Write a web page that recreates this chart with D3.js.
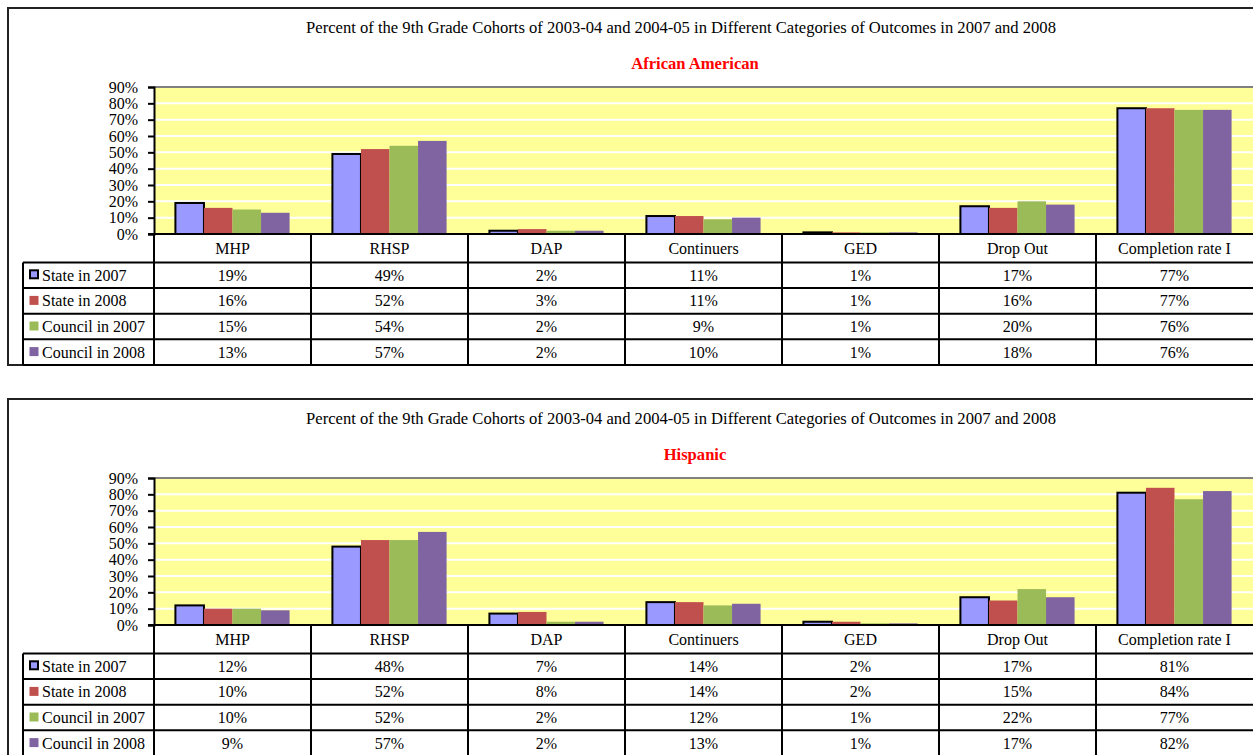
<!DOCTYPE html>
<html>
<head>
<meta charset="utf-8">
<script src="https://cdn.jsdelivr.net/npm/d3@7"></script>
<style>
  html, body { margin: 0; padding: 0; background: #fff; }
  svg { display: block; }
  text { font-family: "Liberation Serif", "Times New Roman", serif; fill: #000; }
</style>
</head>
<body>
<svg id="chart" width="1253" height="755"></svg>
<script>
// Outcome categories shown along the axis and as table columns
const categories = ["MHP", "RHSP", "DAP", "Continuers", "GED", "Drop Out", "Completion rate I"];
const seriesNames = ["State in 2007", "State in 2008", "Council in 2007", "Council in 2008"];
const seriesColors = ["#9999FF", "#C0504D", "#9BBB59", "#8064A2"];
const yTicks = [0, 0.1, 0.2, 0.3, 0.4, 0.5, 0.6, 0.7, 0.8, 0.9];

const chartTitle = "Percent of the 9th Grade Cohorts of 2003-04 and 2004-05 in Different Categories of Outcomes in 2007 and 2008";

// African American values (percent)
const aaState2007   = [19, 49, 2, 11, 1, 17, 77];
const aaState2008   = [16, 52, 3, 11, 1, 16, 77];
const aaCouncil2007 = [15, 54, 2, 9, 1, 20, 76];
const aaCouncil2008 = [13, 57, 2, 10, 1, 18, 76];

// Hispanic values (percent)
const hiState2007   = [12, 48, 7, 14, 2, 17, 81];
const hiState2008   = [10, 52, 8, 14, 2, 15, 84];
const hiCouncil2007 = [10, 52, 2, 12, 1, 22, 77];
const hiCouncil2008 = [9, 57, 2, 13, 1, 17, 82];

const panels = [
  { subtitle: "African American", series: [aaState2007, aaState2008, aaCouncil2007, aaCouncil2008] },
  { subtitle: "Hispanic",         series: [hiState2007, hiState2008, hiCouncil2007, hiCouncil2008] }
];

const svg = d3.select("#chart");
const fmtPct = d3.format(".0%");

// Layout (per panel, relative to panel origin)
const panelStep = 391;
const frameX = 8, frameY = 8;
const plotLeft = 154, plotRight = 1253;
const plotTop = 87, plotBottom = 234;
const headerH = 28.5;
const rowH = 25.6;
const legendLeft = 23;

function drawPanel(panel, idx) {
  const g = svg.append("g").attr("transform", `translate(0,${idx * panelStep})`);

  const x = d3.scaleBand().domain(categories).range([plotLeft, plotRight]).padding(0);
  const step = x.step();
  const barW = step / 5.5;
  const gap = step - 4 * barW;
  const xs = d3.scaleBand().domain(seriesNames).range([gap / 2, step - gap / 2]).padding(0);
  const y = d3.scaleLinear().domain([0, 0.9]).range([plotBottom, plotTop]);

  // outer frame
  g.append("rect")
    .attr("x", frameX).attr("y", frameY)
    .attr("width", 1400).attr("height", 357)
    .attr("fill", "#fff").attr("stroke", "#222").attr("stroke-width", 2);

  // titles
  g.append("text").attr("x", 681).attr("y", 33)
    .attr("text-anchor", "middle").attr("font-size", 16.6).text(chartTitle);
  g.append("text").attr("x", 695).attr("y", 68.5)
    .attr("text-anchor", "middle").attr("font-size", 16.6).attr("font-weight", "bold")
    .style("fill", "#FF0000").text(panel.subtitle);

  // plot background
  g.append("rect")
    .attr("x", plotLeft).attr("y", y(0.9))
    .attr("width", plotRight - plotLeft + 2).attr("height", y(0) - y(0.9))
    .attr("fill", "#FFFF99");

  // gridlines
  g.append("g").selectAll("line")
    .data(yTicks.filter(t => t > 0 && t < 0.9))
    .join("line")
    .attr("x1", plotLeft).attr("x2", plotRight + 2)
    .attr("y1", d => y(d)).attr("y2", d => y(d))
    .attr("stroke", "#fff").attr("stroke-width", 2);

  // top border of plot area
  g.append("line")
    .attr("x1", plotLeft).attr("x2", plotRight + 2)
    .attr("y1", y(0.9)).attr("y2", y(0.9))
    .attr("stroke", "#808080").attr("stroke-width", 2);

  // bars
  panel.series.forEach((vals, si) => {
    g.append("g").selectAll("rect")
      .data(vals.map((v, ci) => ({ cat: categories[ci], v: v / 100 })))
      .join("rect")
      .attr("x", d => x(d.cat) + xs(seriesNames[si]))
      .attr("y", d => y(d.v))
      .attr("width", xs.bandwidth())
      .attr("height", d => y(0) - y(d.v))
      .attr("fill", seriesColors[si])
      .attr("stroke", si === 0 ? "#000" : "none")
      .attr("stroke-width", si === 0 ? 2 : 0);
  });

  // y axis
  const yAxis = d3.axisLeft(y).tickValues(yTicks).tickFormat(fmtPct).tickSize(6).tickPadding(10);
  const ya = g.append("g").attr("transform", `translate(${plotLeft},0)`).call(yAxis);
  ya.select(".domain").attr("stroke", "#000").attr("stroke-width", 2);
  ya.selectAll(".tick line").attr("stroke", "#000").attr("stroke-width", 2);
  ya.selectAll(".tick text")
    .attr("font-family", "Liberation Serif, Times New Roman, serif")
    .attr("font-size", 16).attr("fill", "#000").attr("dy", "0.33em");

  // data table
  const tableTop = plotBottom;
  const headerBottom = tableTop + headerH;
  const tableBottom = headerBottom + rowH * 4;
  const lines = g.append("g").attr("stroke", "#000").attr("stroke-width", 2);

  // x axis line / table top
  lines.append("line").attr("x1", plotLeft - 6).attr("x2", plotRight + 2)
    .attr("y1", tableTop).attr("y2", tableTop);
  // horizontal row lines
  for (let r = 0; r <= 4; r++) {
    const yy = headerBottom + r * rowH;
    lines.append("line").attr("x1", legendLeft).attr("x2", plotRight + 2)
      .attr("y1", yy).attr("y2", yy);
  }
  // vertical column lines
  lines.append("line").attr("x1", legendLeft).attr("x2", legendLeft)
    .attr("y1", headerBottom).attr("y2", tableBottom);
  categories.forEach(c => {
    lines.append("line").attr("x1", x(c)).attr("x2", x(c))
      .attr("y1", tableTop).attr("y2", tableBottom);
  });

  // header labels
  g.append("g").selectAll("text").data(categories).join("text")
    .attr("x", d => x(d) + step / 2).attr("y", tableTop + headerH / 2 + 5.5)
    .attr("text-anchor", "middle").attr("font-size", 16).text(d => d);

  // legend keys and values
  panel.series.forEach((vals, si) => {
    const rowTop = headerBottom + si * rowH;
    const cy = rowTop + rowH / 2;
    g.append("rect")
      .attr("x", si === 0 ? 30 : 29.5).attr("y", cy - 5)
      .attr("width", si === 0 ? 8 : 9).attr("height", si === 0 ? 8 : 9)
      .attr("fill", seriesColors[si])
      .attr("stroke", si === 0 ? "#000" : "none").attr("stroke-width", 2);
    g.append("text").attr("x", 42).attr("y", cy + 5.5)
      .attr("font-size", 16).text(seriesNames[si]);
    g.append("g").selectAll("text").data(vals).join("text")
      .attr("x", (d, ci) => x(categories[ci]) + step / 2)
      .attr("y", cy + 5.5)
      .attr("text-anchor", "middle").attr("font-size", 16)
      .text(d => d + "%");
  });
}

panels.forEach(drawPanel);
</script>
</body>
</html>
